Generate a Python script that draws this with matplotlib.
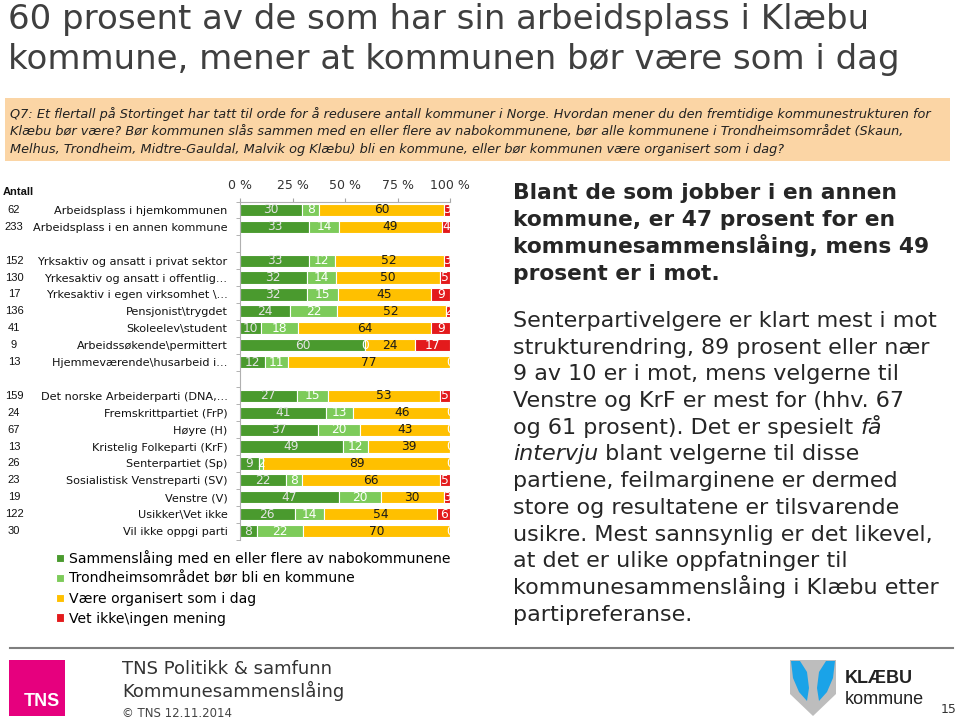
import matplotlib
matplotlib.use("Agg")
import matplotlib.pyplot as plt
import matplotlib.transforms as mtransforms
from matplotlib.patches import Rectangle, Polygon
from matplotlib.lines import Line2D
import numpy as np

# ---- data ----
title_lines = ["60 prosent av de som har sin arbeidsplass i Klæbu",
               "kommune, mener at kommunen bør være som i dag"]
question_lines = [
    "Q7: Et flertall på Stortinget har tatt til orde for å redusere antall kommuner i Norge. Hvordan mener du den fremtidige kommunestrukturen for",
    "Klæbu bør være? Bør kommunen slås sammen med en eller flere av nabokommunene, bør alle kommunene i Trondheimsområdet (Skaun,",
    "Melhus, Trondheim, Midtre-Gauldal, Malvik og Klæbu) bli en kommune, eller bør kommunen være organisert som i dag?",
]

categories = ["Arbeidsplass i hjemkommunen", "Arbeidsplass i en annen kommune",
              "Yrksaktiv og ansatt i privat sektor", "Yrkesaktiv og ansatt i offentlig…",
              "Yrkesaktiv i egen virksomhet \\…", "Pensjonist\\trygdet", "Skoleelev\\student",
              "Arbeidssøkende\\permittert", "Hjemmeværende\\husarbeid i…",
              "Det norske Arbeiderparti (DNA,…", "Fremskrittpartiet (FrP)", "Høyre (H)",
              "Kristelig Folkeparti (KrF)", "Senterpartiet (Sp)", "Sosialistisk Venstreparti (SV)",
              "Venstre (V)", "Usikker\\Vet ikke", "Vil ikke oppgi parti"]
group_sizes = [2, 7, 9]
counts = [62, 233, 152, 130, 17, 136, 41, 9, 13, 159, 24, 67, 13, 26, 23, 19, 122, 30]

v_merge = [30, 33, 33, 32, 32, 24, 10, 60, 12, 27, 41, 37, 49, 9, 22, 47, 26, 8]
v_trondheim = [8, 14, 12, 14, 15, 22, 18, 0, 11, 15, 13, 20, 12, 2, 8, 20, 14, 22]
v_same = [60, 49, 52, 50, 45, 52, 64, 24, 77, 53, 46, 43, 39, 89, 66, 30, 54, 70]
v_unknown = [3, 4, 3, 5, 9, 2, 9, 17, 0, 5, 0, 0, 0, 0, 5, 3, 6, 0]

series_names = ["Sammenslåing med en eller flere av nabokommunene",
                "Trondheimsområdet bør bli en kommune",
                "Være organisert som i dag",
                "Vet ikke\\ingen mening"]
series_colors = ["#4A9A2E", "#7DCB5A", "#FFC000", "#E31A1C"]
label_colors = ["#E4E4E4", "#FFFFFF", "#1A1A1A", "#FFFFFF"]

bold_text = ["Blant de som jobber i en annen",
             "kommune, er 47 prosent for en",
             "kommunesammenslåing, mens 49",
             "prosent er i mot."]
body_text = ["Senterpartivelgere er klart mest i mot",
             "strukturendring, 89 prosent eller nær",
             "9 av 10 er i mot, mens velgerne til",
             "Venstre og KrF er mest for (hhv. 67",
             [("og 61 prosent). Det er spesielt ", "normal"), ("få", "italic")],
             [("intervju", "italic"), (" blant velgerne til disse", "normal")],
             "partiene, feilmarginene er dermed",
             "store og resultatene er tilsvarende",
             "usikre. Mest sannsynlig er det likevel,",
             "at det er ulike oppfatninger til",
             "kommunesammenslåing i Klæbu etter",
             "partipreferanse."]

W, H = 960, 720


def fx(x):
    return x / W


def fy(y):
    return 1 - y / H


fig = plt.figure(figsize=(9.6, 7.2), dpi=100)
fig.patch.set_facecolor("white")

# title
for i, line in enumerate(title_lines):
    fig.text(fx(8), fy(29 + i * 40), line, fontsize=24.5, color="#3F3F3F",
             va="baseline", ha="left", family="DejaVu Sans")

# question box
fig.add_artist(Rectangle((fx(5), fy(161)), fx(945), 63 / H, transform=fig.transFigure,
                         facecolor="#FBD5A5", edgecolor="none"))
for i, line in enumerate(question_lines):
    fig.text(fx(10), fy(118 + i * 17.5), line, fontsize=9.3, style="italic",
             color="#222222", va="baseline", ha="left")

# ---- chart ----
ax = fig.add_axes([fx(240), fy(539.5), fx(210), 338 / H])

pos = []
slot = 0
for size in group_sizes:
    pos += list(range(slot, slot + size))
    slot += size + 1
pos = np.array(pos)
nslots = slot - 1

data = np.array([v_merge, v_trondheim, v_same, v_unknown], dtype=float)
totals = data.sum(axis=0)
widths = data / totals * 100

left = np.zeros(len(pos))
handles = []
for k in range(4):
    bars = ax.barh(pos, widths[k], left=left, height=0.72, color=series_colors[k],
                   edgecolor="white", linewidth=0.8, label=series_names[k])
    handles.append(bars)
    for bar, val, l, w, p in zip(bars, data[k], left, widths[k], pos):
        t = ax.text(l + w / 2, p, f"{int(val)}", ha="center", va="center",
                    fontsize=8.8, color=label_colors[k])
        t.set_clip_path(bar)
    left = left + widths[k]

ax.set_xlim(0, 100)
ax.set_ylim(nslots - 0.5, -0.5)
ax.xaxis.tick_top()
ax.set_xticks([0, 25, 50, 75, 100], [f"{v} %" for v in [0, 25, 50, 75, 100]])
ax.tick_params(axis="x", length=3, color="#A6A6A6", labelsize=9, labelcolor="#333333", pad=4)
ax.set_yticks(pos, categories)
ax.tick_params(axis="y", which="major", length=0, labelsize=8.1, labelcolor="#111111", pad=9)
ax.set_yticks(np.arange(-0.5, nslots, 1), minor=True)
ax.tick_params(axis="y", which="minor", length=3, color="#A6A6A6")
for s in ["right", "bottom"]:
    ax.spines[s].set_visible(False)
for s in ["left", "top"]:
    ax.spines[s].set_color("#B0B0B0")
    ax.spines[s].set_linewidth(0.8)

# counts column
trans = mtransforms.blended_transform_factory(fig.transFigure, ax.transData)
for p, n in zip(pos, counts):
    ax.text(fx(14), p, str(n), transform=trans, ha="center", va="center",
            fontsize=8, family="Liberation Sans", color="#111111", clip_on=False)
fig.text(fx(3), fy(192), "Antall", fontsize=8, fontweight="bold",
         family="Liberation Sans", va="center", ha="left", color="#111111")

# legend
fig.legend(handles=handles, labels=series_names, loc="upper left",
           bbox_to_anchor=(fx(56), fy(550)), frameon=False, fontsize=10.1,
           handlelength=0.55, handleheight=0.55, handletextpad=0.35,
           labelspacing=0.42, borderaxespad=0, borderpad=0)

# right-hand text
for i, line in enumerate(bold_text):
    fig.text(fx(513), fy(199 + i * 27), line, fontsize=15.7, fontweight="bold",
             color="#262626", va="baseline", ha="left")

renderer = fig.canvas.get_renderer()
for i, line in enumerate(body_text):
    y = fy(327 + i * 26.7)
    if isinstance(line, str):
        fig.text(fx(513), y, line, fontsize=16, color="#262626", va="baseline", ha="left")
    else:
        x = fx(513)
        for part, st in line:
            t = fig.text(x, y, part, fontsize=16, style=st, color="#262626",
                         va="baseline", ha="left")
            bb = t.get_window_extent(renderer)
            x += bb.width / fig.bbox.width

# footer
fig.add_artist(Line2D([fx(10), fx(953)], [fy(648), fy(648)], color="#7F7F7F",
                      linewidth=1.5, transform=fig.transFigure))
fig.add_artist(Rectangle((fx(9), fy(716)), fx(56), 56 / H, transform=fig.transFigure,
                         facecolor="#E6007E", edgecolor="none"))
fig.text(fx(42), fy(706), "TNS", fontsize=13, fontweight="bold", color="white",
         ha="center", va="baseline", family="Liberation Sans")
fig.text(fx(122), fy(674), "TNS Politikk & samfunn", fontsize=13, color="#333333",
         ha="left", va="baseline")
fig.text(fx(122), fy(697), "Kommunesammenslåing", fontsize=13, color="#333333",
         ha="left", va="baseline")
fig.text(fx(122), fy(717), "© TNS 12.11.2014", fontsize=8.5, color="#444444",
         ha="left", va="baseline")

# Klæbu shield
shield = [(790, 660), (836, 660), (836, 694), (813, 716), (790, 694)]
fig.add_artist(Polygon([(fx(a), fy(b)) for a, b in shield], closed=True,
                       transform=fig.transFigure, facecolor="#BDBDBD", edgecolor="none"))
leaf_l = [(791, 661), (800, 661), (807, 672), (809, 688), (807, 701), (799, 692), (793, 678)]
leaf_r = [(835, 661), (826, 661), (819, 672), (817, 688), (819, 701), (827, 692), (833, 678)]
for leaf in (leaf_l, leaf_r):
    fig.add_artist(Polygon([(fx(a), fy(b)) for a, b in leaf], closed=True,
                           transform=fig.transFigure, facecolor="#1AA3E8", edgecolor="none"))
fig.text(fx(845), fy(683), "KLÆBU", fontsize=13, fontweight="bold", color="#222222",
         ha="left", va="baseline", family="Liberation Sans")
fig.text(fx(845), fy(704), "kommune", fontsize=13, color="#222222",
         ha="left", va="baseline", family="Liberation Sans")
fig.text(fx(957), fy(713), "15", fontsize=9, color="#333333", ha="right", va="baseline")

fig.savefig("out.png", dpi=100)
